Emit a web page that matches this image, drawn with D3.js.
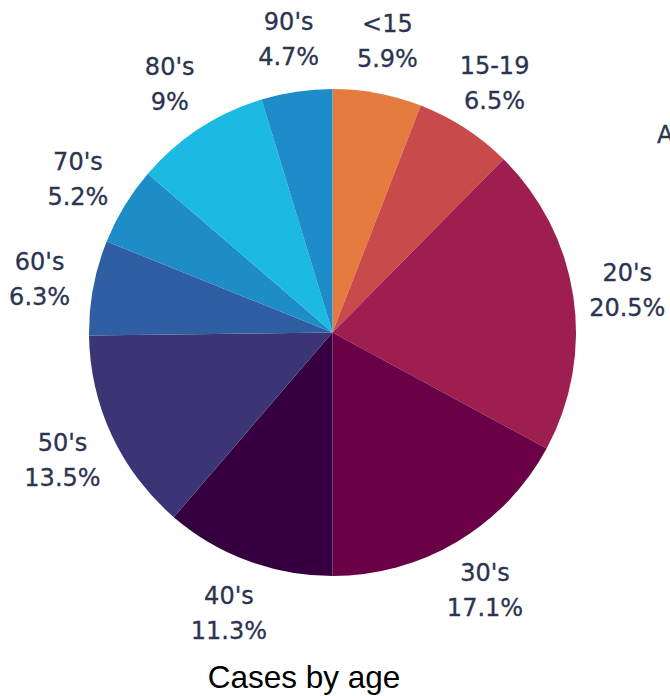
<!DOCTYPE html>
<html>
<head>
<meta charset="utf-8">
<script src="https://cdn.jsdelivr.net/npm/d3@7/dist/d3.min.js"></script>
<style>
  html, body { margin: 0; padding: 0; background: #fff; }
  svg { display: block; }
</style>
</head>
<body>
<svg id="chart" width="670" height="696"></svg>
<script>
const categories = ["<15", "15-19", "20's", "30's", "40's", "50's", "60's", "70's", "80's", "90's"];
const values = [5.9, 6.5, 20.5, 17.1, 11.3, 13.5, 6.3, 5.2, 9, 4.7];
const colors = ["#e57b3e", "#c84a4a", "#9e1e4f", "#6a0046", "#360040", "#3b3475", "#2f5ea3", "#1d8cc7", "#1cb9e2", "#1e8cc8"];
const title = "Cases by age";

const svg = d3.select("#chart");
const cx = 332.5, cy = 332.5, R = 243.5, labelR = 298;

const data = categories.map((c, i) => ({ cat: c, value: values[i], color: colors[i] }));
const pie = d3.pie().value(d => d.value).sort(null);
const arcs = pie(data);
const arc = d3.arc().innerRadius(0).outerRadius(R);

const g = svg.append("g").attr("transform", `translate(${cx},${cy})`);
g.selectAll("path").data(arcs).join("path")
  .attr("d", arc)
  .attr("fill", d => d.data.color);

const lbl = g.selectAll("g.lbl").data(arcs).join("g").attr("class", "lbl")
  .attr("transform", d => {
    const a = (d.startAngle + d.endAngle) / 2;
    return `translate(${labelR * Math.sin(a)},${-labelR * Math.cos(a)})`;
  });
lbl.append("text")
  .attr("text-anchor", "middle")
  .attr("y", -8)
  .attr("font-family", "DejaVu Sans, sans-serif")
  .attr("font-size", 24)
  .attr("fill", "#2b3450")
  .attr("stroke", "#2b3450").attr("stroke-width", 0.3)
  .text(d => d.data.cat);
lbl.append("text")
  .attr("text-anchor", "middle")
  .attr("y", 27)
  .attr("font-family", "DejaVu Sans, sans-serif")
  .attr("font-size", 24)
  .attr("fill", "#2b3450")
  .attr("stroke", "#2b3450").attr("stroke-width", 0.3)
  .text(d => d.data.value + "%");

// annotation partly outside the right edge, as in the reference
svg.append("text")
  .attr("x", 657).attr("y", 143)
  .attr("font-family", "DejaVu Sans, sans-serif")
  .attr("font-size", 24)
  .attr("fill", "#2b3450")
  .attr("stroke", "#2b3450").attr("stroke-width", 0.3)
  .text("Age");

svg.append("text")
  .attr("x", 304).attr("y", 688)
  .attr("text-anchor", "middle")
  .attr("font-family", "Liberation Sans, Arial, sans-serif")
  .attr("font-size", 31.5)
  .attr("fill", "#000")
  .text(title);
</script>
</body>
</html>
